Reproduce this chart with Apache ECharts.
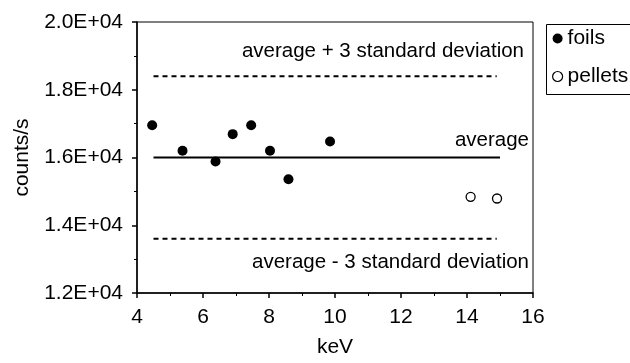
<!DOCTYPE html>
<html>
<head>
<meta charset="utf-8">
<script src="https://cdn.jsdelivr.net/npm/echarts@6/dist/echarts.min.js"></script>
<style>
  html, body { margin: 0; padding: 0; background: #fff; }
  #myChart { width: 630px; height: 363px; }
</style>
</head>
<body>
<div id="myChart"></div>
<script>
  // values
  var foilsKeV = [4.46, 5.38, 6.38, 6.90, 7.46, 8.03, 8.59, 9.85]
  var foilsCounts = [16950, 16200, 15880, 16690, 16950, 16200, 15360, 16470]
  var pelletsKeV = [14.11, 14.91]
  var pelletsCounts = [14840, 14790]
  var lineStartKeV = 4.5
  var lineEndKeV = 14.9
  var average = 16000
  var upperLimit = 18400
  var lowerLimit = 13600
  var yTicks = [12000, 14000, 16000, 18000, 20000]
  var xTicks = [4, 6, 8, 10, 12, 14, 16]

  var font = 'Liberation Sans, Arial, Helvetica, sans-serif'

  function pairs(xs, ys) {
    return xs.map(function (x, i) { return [x, ys[i]] })
  }

  var myCharts = echarts.init(document.getElementById('myChart'))
  myCharts.setOption({
    animation: false,
    textStyle: { fontFamily: font, color: '#000' },
    grid: {
      left: 137, top: 22, width: 396, height: 276,
      show: true, borderColor: '#000', borderWidth: 1
    },
    legend: {
      orient: 'vertical',
      left: 544, top: 22,
      padding: [6, 20, 6, 8],
      itemGap: 17,
      itemWidth: 10, itemHeight: 10,
      textStyle: { fontSize: 21, fontFamily: font, color: '#000', lineHeight: 21 },
      data: [
        { name: 'foils', icon: 'circle', itemStyle: { color: '#000', opacity: 1 } },
        { name: 'pellets', icon: 'circle', itemStyle: { color: '#fff', borderColor: '#000', borderWidth: 1.2, opacity: 1 } }
      ]
    },
    xAxis: {
      type: 'value',
      min: xTicks[0], max: xTicks[xTicks.length - 1], interval: 2,
      name: 'keV', nameLocation: 'middle', nameGap: 44,
      nameTextStyle: { fontSize: 21, fontFamily: font, color: '#000' },
      axisLine: { lineStyle: { color: '#000', width: 1.5 } },
      axisTick: { length: 5, lineStyle: { color: '#000', width: 1.5 } },
      minorTick: { show: true, splitNumber: 2, length: 3, lineStyle: { color: '#000' } },
      axisLabel: { fontSize: 21, fontFamily: font, color: '#000', margin: 14 },
      splitLine: { show: false }
    },
    yAxis: {
      type: 'value',
      min: yTicks[0], max: yTicks[yTicks.length - 1], interval: 2000,
      name: 'counts/s', nameLocation: 'middle', nameGap: 104,
      nameTextStyle: { fontSize: 21, fontFamily: font, color: '#000' },
      axisLine: { show: true, lineStyle: { color: '#000', width: 1.5 } },
      axisTick: { show: true, length: 5, lineStyle: { color: '#000', width: 1.5 } },
      minorTick: { show: true, splitNumber: 2, length: 3, lineStyle: { color: '#000' } },
      axisLabel: {
        fontSize: 21, fontFamily: font, color: '#000', margin: 14,
        formatter: function (v) {
          var e = v.toExponential(1).toUpperCase().split('E')
          var exp = parseInt(e[1], 10)
          return e[0] + 'E' + (exp < 0 ? '-' : '+') + (Math.abs(exp) < 10 ? '0' : '') + Math.abs(exp)
        }
      },
      splitLine: { show: false }
    },
    series: [
      {
        name: 'upper', type: 'line', symbol: 'none', silent: true,
        lineStyle: { color: '#000', width: 2, type: [5, 4] },
        data: [[lineStartKeV, upperLimit], [lineEndKeV, upperLimit]]
      },
      {
        name: 'average', type: 'line', symbol: 'none', silent: true,
        lineStyle: { color: '#000', width: 2 },
        data: [[lineStartKeV, average], [lineEndKeV + 0.1, average]]
      },
      {
        name: 'lower', type: 'line', symbol: 'none', silent: true,
        lineStyle: { color: '#000', width: 2, type: [5, 4] },
        data: [[lineStartKeV, lowerLimit], [lineEndKeV, lowerLimit]]
      },
      {
        name: 'foils', type: 'scatter', symbol: 'circle', symbolSize: 10,
        itemStyle: { color: '#000', opacity: 1 },
        data: pairs(foilsKeV, foilsCounts)
      },
      {
        name: 'pellets', type: 'scatter', symbol: 'circle', symbolSize: 9,
        itemStyle: { color: '#fff', borderColor: '#000', borderWidth: 1.3, opacity: 1 },
        data: pairs(pelletsKeV, pelletsCounts)
      }
    ],
    graphic: [
      // legend frame runs off the right edge, as in the original
      { type: 'rect', left: 544, top: 22, shape: { width: 120, height: 70 }, style: { fill: 'none', stroke: '#000', lineWidth: 1 } },
      { type: 'text', right: 106, top: 41, style: { text: 'average + 3 standard deviation', font: '20.5px ' + font, fill: '#000' } },
      { type: 'text', right: 101, top: 130, style: { text: 'average', font: '20.5px ' + font, fill: '#000' } },
      { type: 'text', right: 101, top: 252, style: { text: 'average - 3 standard deviation', font: '20.5px ' + font, fill: '#000' } }
    ]
  })
</script>
</body>
</html>
